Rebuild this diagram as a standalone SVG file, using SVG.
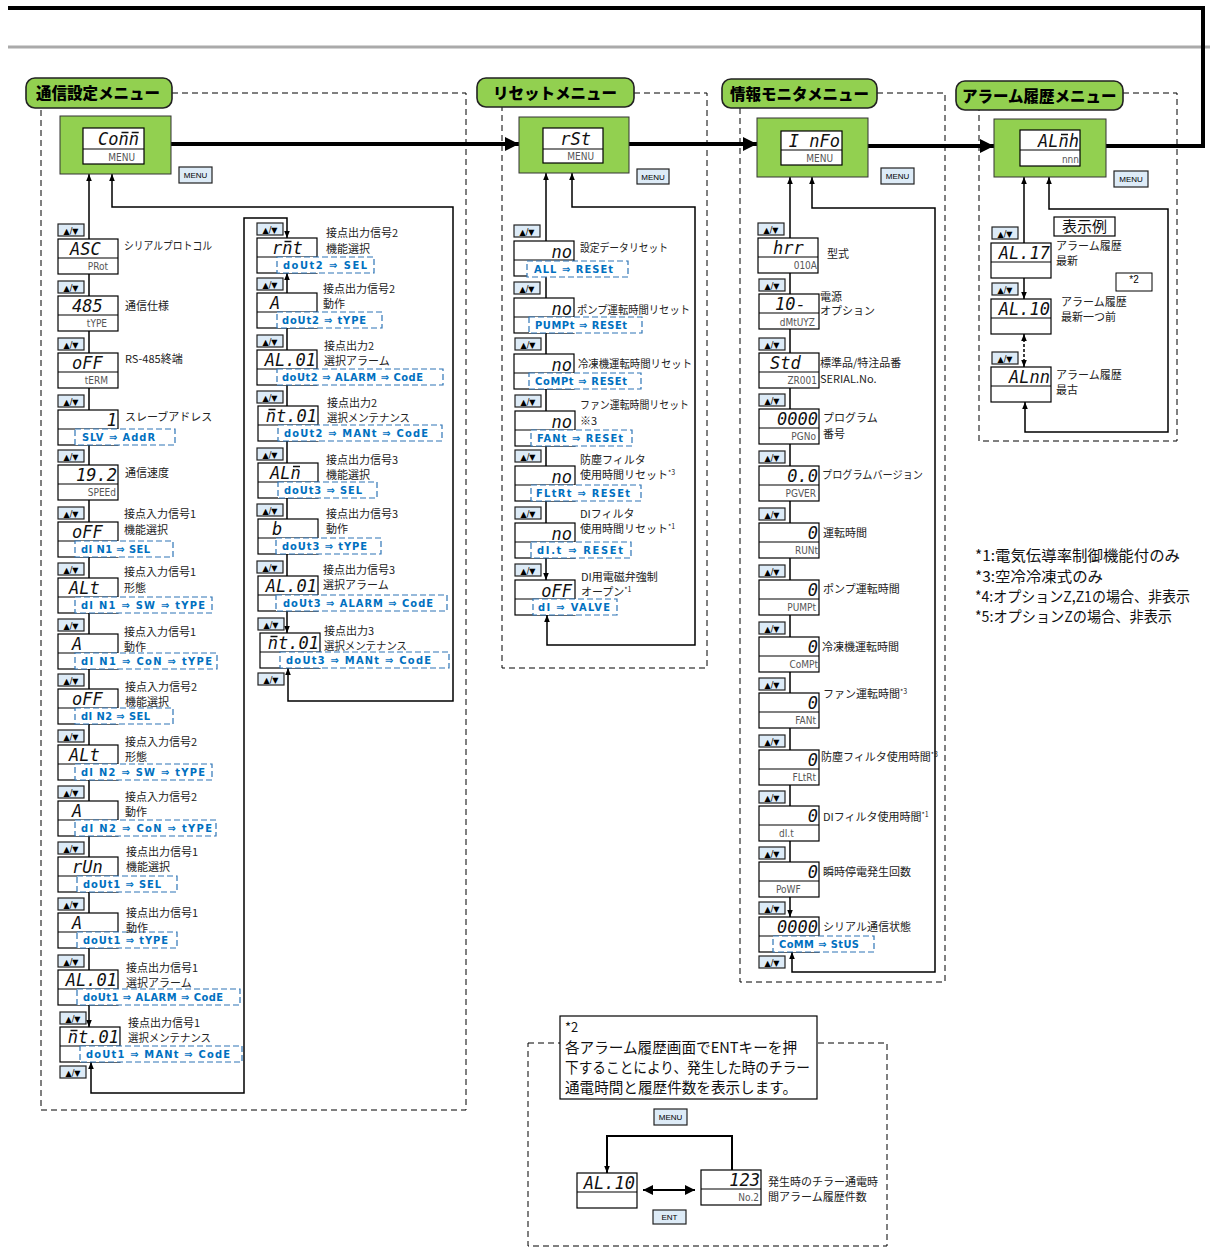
<svg xmlns="http://www.w3.org/2000/svg" width="1210" height="1259" viewBox="0 0 1210 1259">
<style>
.d{fill:#fff;stroke:#000;stroke-width:1.2}
.dl{stroke:#000;stroke-width:1.2}
.gr{fill:#92D050;stroke:#333;stroke-width:1}
.hd{fill:#92D050;stroke:#222;stroke-width:1.6}
.ht{font-family:"Noto Sans CJK JP",sans-serif;font-weight:900;font-size:15.5px;fill:#000}
.sg{font-family:"DejaVu Sans Mono",monospace;font-style:italic;font-size:17px;fill:#111}
.sge{font-family:"DejaVu Sans Mono",monospace;font-style:italic;font-size:17px;fill:#111;text-anchor:end}
.ob{stroke:#111;stroke-width:1.5}
.sb{font-family:"DejaVu Sans Condensed","DejaVu Sans",sans-serif;font-size:10px;fill:#555;text-anchor:end}
.sbs{font-family:"DejaVu Sans Condensed","DejaVu Sans",sans-serif;font-size:10px;fill:#555}
.bd{fill:#fff;stroke:#2E75B6;stroke-width:1.2;stroke-dasharray:6 3}
.bl{font-family:"DejaVu Sans Condensed","DejaVu Sans",sans-serif;font-weight:bold;font-size:11px;fill:#0070C0}
.lb{font-family:"Noto Sans CJK JP",sans-serif;font-size:11px;fill:#222}
.sup{font-size:7px}
.kb{fill:#DDEBF7;stroke:#222;stroke-width:1.2}
.kt{font-family:"DejaVu Sans",sans-serif;font-size:8px;fill:#000;text-anchor:middle}
.mt{font-family:"Liberation Sans",sans-serif;font-size:8px;fill:#000;text-anchor:middle}
.pn{fill:none;stroke:#000;stroke-width:1;stroke-dasharray:6 4}
.db{fill:none;stroke:#000;stroke-width:1.5;marker-start:url(#ah);marker-end:url(#ah)}
.one{fill:none;stroke:#000;stroke-width:2;marker-end:url(#ah)}
.thk{fill:none;stroke:#000;stroke-width:4}
.tha{fill:none;stroke:#000;stroke-width:4;marker-end:url(#AH)}
.nt{font-family:"Noto Sans CJK JP",sans-serif;font-size:15px;fill:#111}
.bt{font-family:"Noto Sans CJK JP",sans-serif;font-size:15px;fill:#111}
</style>
<defs>
<marker id="ah" viewBox="0 0 10 10" refX="10" refY="5" markerWidth="7" markerHeight="7" markerUnits="userSpaceOnUse" orient="auto-start-reverse"><path d="M0,1L10,5L0,9z" fill="#000"/></marker>
<marker id="AH" viewBox="0 0 10 10" refX="10" refY="5" markerWidth="14" markerHeight="15" markerUnits="userSpaceOnUse" orient="auto"><path d="M0,0L10,5L0,10z" fill="#000"/></marker>
<marker id="am" viewBox="0 0 10 10" refX="10" refY="5" markerWidth="11" markerHeight="10" markerUnits="userSpaceOnUse" orient="auto-start-reverse"><path d="M0,0L10,5L0,10z" fill="#000"/></marker>
<g id="bx"><rect class="d" width="60" height="35"/><line class="dl" x1="0" y1="19" x2="60" y2="19"/></g>
<g id="ud"><rect class="kb" width="26" height="12"/><text class="kt" x="13" y="9.5">▲/▼</text></g>
</defs>
<rect width="1210" height="1259" fill="#fff"/>

<g id="frame">
<line x1="8" y1="47" x2="1210" y2="47" stroke="#aaa" stroke-width="3"/>
<path class="thk" d="M8,8H1203V146H1106"/>
</g>

<g id="panels">
<path class="pn" d="M172,93H466V1110H41V108"/>
<path class="pn" d="M634,93H707V668H502V107"/>
<path class="pn" d="M877,93H945V982H740V108"/>
<path class="pn" d="M1123,93H1177V441H979V110"/>
<rect class="pn" x="528" y="1043" width="359" height="203"/>
</g>

<g id="connectors">
<path class="tha" d="M171,144H519"/>
<path class="tha" d="M629,144H757"/>
<path class="tha" d="M868,146H994"/>
<path class="db" d="M89,174V239M89,274V296M89,331V353M89,388V410M89,445V465M89,500V522M89,557V578M89,613V634M89,669V689M89,724V745M89,780V801M89,836V857M89,892V913M89,948V970M89,1005V1027"/>
<path class="db" d="M91,1062V1093H244V218H287V238"/>
<path class="db" d="M287,273V293M287,328V350M287,385V406M287,441V463M287,498V519M287,554V576M287,611V633"/>
<path class="db" d="M288,668V701H453V207H112V174"/>
<path class="db" d="M546,173V241M546,276V298M546,333V354M546,389V411M546,446V466M546,501V523M546,558V580"/>
<path class="db" d="M547,615V645H695V207H572V173"/>
<path class="db" d="M790,177V238M790,273V294M790,329V353M790,388V409M790,444V466M790,501V523M790,558V580M790,615V637M790,672V693M790,728V750M790,785V806M790,841V862M790,897V917"/>
<path class="db" d="M792,952V972H935V208H812V177"/>
<path class="db" d="M1024,177V243M1024,278V299"/>
<path class="db" stroke-dasharray="3 2" d="M1024,334V367"/>
<path class="db" d="M1025,402V432H1168V209H1049V177"/>
<path class="one" d="M732,1170V1136H607V1173"/>
<path fill="none" stroke="#000" stroke-width="2" marker-start="url(#am)" marker-end="url(#am)" d="M643,1190H695"/>
</g>

<g id="keys">
<use href="#ud" x="58" y="224"/><use href="#ud" x="58" y="281"/><use href="#ud" x="58" y="338"/><use href="#ud" x="58" y="395"/><use href="#ud" x="58" y="450"/><use href="#ud" x="58" y="507"/><use href="#ud" x="58" y="563"/><use href="#ud" x="58" y="619"/><use href="#ud" x="58" y="674"/><use href="#ud" x="58" y="730"/><use href="#ud" x="58" y="786"/><use href="#ud" x="58" y="842"/><use href="#ud" x="58" y="898"/><use href="#ud" x="58" y="955"/><use href="#ud" x="60" y="1012"/><use href="#ud" x="60" y="1066"/>
<use href="#ud" x="257" y="223"/><use href="#ud" x="257" y="278"/><use href="#ud" x="257" y="335"/><use href="#ud" x="257" y="391"/><use href="#ud" x="257" y="448"/><use href="#ud" x="257" y="504"/><use href="#ud" x="257" y="561"/><use href="#ud" x="258" y="618"/><use href="#ud" x="258" y="673"/>
<use href="#ud" x="514" y="225"/><use href="#ud" x="514" y="282"/><use href="#ud" x="515" y="338"/><use href="#ud" x="515" y="395"/><use href="#ud" x="515" y="450"/><use href="#ud" x="515" y="507"/><use href="#ud" x="515" y="564"/>
<use href="#ud" x="758" y="223"/><use href="#ud" x="759" y="279"/><use href="#ud" x="759" y="338"/><use href="#ud" x="759" y="394"/><use href="#ud" x="759" y="451"/><use href="#ud" x="759" y="508"/><use href="#ud" x="759" y="565"/><use href="#ud" x="759" y="622"/><use href="#ud" x="759" y="678"/><use href="#ud" x="759" y="735"/><use href="#ud" x="759" y="791"/><use href="#ud" x="759" y="847"/><use href="#ud" x="759" y="902"/><use href="#ud" x="759" y="956"/>
<use href="#ud" x="992" y="227"/><use href="#ud" x="992" y="283"/><use href="#ud" x="992" y="352"/>
<rect class="kb" x="179" y="167" width="33" height="16"/><text class="mt" x="195.5" y="178">MENU</text>
<rect class="kb" x="637" y="169" width="32" height="15"/><text class="mt" x="653" y="179.5">MENU</text>
<rect class="kb" x="881" y="168" width="33" height="16"/><text class="mt" x="897.5" y="179">MENU</text>
<rect class="kb" x="1114" y="171" width="34" height="16"/><text class="mt" x="1131" y="182">MENU</text>
<rect class="kb" x="654" y="1109" width="33" height="16"/><text class="mt" x="670.5" y="1120">MENU</text>
<rect class="kb" x="653" y="1210" width="33" height="14"/><text class="mt" x="669.5" y="1220">ENT</text>
</g>

<g id="m-conn">
<rect class="hd" x="26" y="78" width="146" height="30" rx="9"/><text class="ht" x="36" y="99">通信設定メニュー</text>
<rect class="gr" x="60" y="116" width="111" height="58"/>
<rect class="d" x="83" y="128" width="61" height="36"/><line class="dl" x1="83" y1="149" x2="144" y2="149"/>
<text class="sge" x="139" y="145">Conn</text><path class="ob" d="M121.5,132.5H128.5M131.7,132.5H138.7"/><text class="sb" x="135" y="161">MENU</text>
</g>
<g id="m-rst">
<rect class="hd" x="477" y="78" width="157" height="29" rx="9"/><text class="ht" x="493" y="99">リセットメニュー</text>
<rect class="gr" x="519" y="117" width="110" height="56"/>
<rect class="d" x="543" y="128" width="60" height="35"/><line class="dl" x1="543" y1="149" x2="603" y2="149"/>
<text class="sge" x="591" y="145">rSt</text><text class="sb" x="594" y="160">MENU</text>
</g>
<g id="m-info">
<rect class="hd" x="722" y="79" width="155" height="29" rx="9"/><text class="ht" x="730" y="100">情報モニタメニュー</text>
<rect class="gr" x="757" y="118" width="111" height="59"/>
<rect class="d" x="781" y="131" width="61" height="34"/><line class="dl" x1="781" y1="150" x2="842" y2="150"/>
<text class="sge" x="840" y="147">I nFo</text><text class="sb" x="833" y="162">MENU</text>
</g>
<g id="m-alarm">
<rect class="hd" x="956" y="81" width="167" height="29" rx="9"/><text class="ht" x="962" y="102">アラーム履歴メニュー</text>
<rect class="gr" x="994" y="119" width="112" height="58"/>
<rect class="d" x="1020" y="130" width="60" height="36"/><line class="dl" x1="1020" y1="150" x2="1080" y2="150"/>
<text class="sge" x="1079" y="147">ALnh</text><path class="ob" d="M1061,134.5H1068"/><text class="sb" x="1079" y="163">nnn</text>
</g>

<g id="c1-asc" transform="translate(58,239)"><use href="#bx"/><text class="sg" x="12" y="16">ASC</text><text class="sb" x="50" y="31">PRot</text><text class="lb" x="66" y="11" textLength="88" lengthAdjust="spacingAndGlyphs">シリアルプロトコル</text></g>
<g id="c1-485" transform="translate(58,296)"><use href="#bx"/><text class="sg" x="14" y="16">485</text><text class="sb" x="49" y="31">tYPE</text><text class="lb" x="67" y="14">通信仕様</text></g>
<g id="c1-term" transform="translate(58,353)"><use href="#bx"/><text class="sg" x="14" y="16">oFF</text><text class="sb" x="50" y="31">tERM</text><text class="lb" x="67" y="10">RS-485終端</text></g>
<g id="c1-slv" transform="translate(58,410)"><use href="#bx"/><text class="sge" x="59" y="16">1</text><rect class="bd" x="17" y="19" width="100" height="16"/><text class="bl" x="24" y="31" textLength="73">SLV ⇒ AddR</text><text class="lb" x="67" y="11">スレーブアドレス</text></g>
<g id="c1-spd" transform="translate(58,465)"><use href="#bx"/><text class="sge" x="59" y="16">19.2</text><text class="sb" x="58" y="31">SPEEd</text><text class="lb" x="67" y="12">通信速度</text></g>
<g id="c1-di1sel" transform="translate(58,522)"><use href="#bx"/><text class="sg" x="14" y="16">oFF</text><rect class="bd" x="17" y="19" width="98" height="16"/><text class="bl" x="23" y="31" textLength="69">dI N1 ⇒ SEL</text><text class="lb" x="66" y="-4">接点入力信号1</text><text class="lb" x="66" y="12">機能選択</text></g>
<g id="c1-di1sw" transform="translate(58,578)"><use href="#bx"/><text class="sg" x="11" y="16">ALt</text><rect class="bd" x="17" y="19" width="137" height="16"/><text class="bl" x="23" y="31" textLength="124">dI N1 ⇒ SW ⇒ tYPE</text><text class="lb" x="66" y="-2">接点入力信号1</text><text class="lb" x="66" y="14">形態</text></g>
<g id="c1-di1con" transform="translate(58,634)"><use href="#bx"/><text class="sg" x="14" y="16">A</text><rect class="bd" x="17" y="19" width="142" height="16"/><text class="bl" x="23" y="31" textLength="131">dI N1 ⇒ CoN ⇒ tYPE</text><text class="lb" x="66" y="2">接点入力信号1</text><text class="lb" x="66" y="17">動作</text></g>
<g id="c1-di2sel" transform="translate(58,689)"><use href="#bx"/><text class="sg" x="14" y="16">oFF</text><rect class="bd" x="17" y="19" width="98" height="16"/><text class="bl" x="23" y="31" textLength="69">dI N2 ⇒ SEL</text><text class="lb" x="67" y="2">接点入力信号2</text><text class="lb" x="67" y="17">機能選択</text></g>
<g id="c1-di2sw" transform="translate(58,745)"><use href="#bx"/><text class="sg" x="11" y="16">ALt</text><rect class="bd" x="17" y="19" width="137" height="16"/><text class="bl" x="23" y="31" textLength="124">dI N2 ⇒ SW ⇒ tYPE</text><text class="lb" x="67" y="1">接点入力信号2</text><text class="lb" x="67" y="16">形態</text></g>
<g id="c1-di2con" transform="translate(58,801)"><use href="#bx"/><text class="sg" x="14" y="16">A</text><rect class="bd" x="17" y="19" width="141" height="16"/><text class="bl" x="23" y="31" textLength="131">dI N2 ⇒ CoN ⇒ tYPE</text><text class="lb" x="67" y="0">接点入力信号2</text><text class="lb" x="67" y="15">動作</text></g>
<g id="c1-do1sel" transform="translate(58,857)"><use href="#bx"/><text class="sg" x="14" y="16">rUn</text><rect class="bd" x="19" y="19" width="100" height="16"/><text class="bl" x="25" y="31" textLength="78">doUt1 ⇒ SEL</text><text class="lb" x="68" y="-1">接点出力信号1</text><text class="lb" x="68" y="14">機能選択</text></g>
<g id="c1-do1typ" transform="translate(58,913)"><use href="#bx"/><text class="sg" x="14" y="16">A</text><rect class="bd" x="19" y="19" width="100" height="16"/><text class="bl" x="25" y="31" textLength="85">doUt1 ⇒ tYPE</text><text class="lb" x="68" y="4">接点出力信号1</text><text class="lb" x="68" y="19">動作</text></g>
<g id="c1-do1alm" transform="translate(58,970)"><use href="#bx"/><text class="sge" x="59" y="16">AL.01</text><rect class="bd" x="19" y="19" width="163" height="16"/><text class="bl" x="25" y="31" textLength="140">doUt1 ⇒ ALARM ⇒ CodE</text><text class="lb" x="68" y="2">接点出力信号1</text><text class="lb" x="68" y="17">選択アラーム</text></g>
<g id="c1-do1mnt" transform="translate(60,1027)"><use href="#bx"/><text class="sge" x="59" y="16">nt.01</text><path class="ob" d="M10.5,3.5H17.5"/><rect class="bd" x="20" y="19" width="162" height="16"/><text class="bl" x="26" y="31" textLength="144">doUt1 ⇒ MANt ⇒ CodE</text><text class="lb" x="68" y="0">接点出力信号1</text><text class="lb" x="68" y="15" textLength="83" lengthAdjust="spacingAndGlyphs">選択メンテナンス</text></g>

<g id="c2-do2sel" transform="translate(257,238)"><use href="#bx"/><text class="sg" x="15" y="16">rnt</text><path class="ob" d="M27.5,3.5H34.5"/><rect class="bd" x="20" y="19" width="97" height="16"/><text class="bl" x="26" y="31" textLength="84">doUt2 ⇒ SEL</text><text class="lb" x="69" y="-1">接点出力信号2</text><text class="lb" x="69" y="15">機能選択</text></g>
<g id="c2-do2typ" transform="translate(257,293)"><use href="#bx"/><text class="sg" x="13" y="16">A</text><rect class="bd" x="20" y="19" width="105" height="16"/><text class="bl" x="25" y="31" textLength="84">doUt2 ⇒ tYPE</text><text class="lb" x="66" y="0">接点出力信号2</text><text class="lb" x="66" y="15">動作</text></g>
<g id="c2-do2alm" transform="translate(257,350)"><use href="#bx"/><text class="sge" x="59" y="16">AL.01</text><rect class="bd" x="20" y="19" width="166" height="16"/><text class="bl" x="25" y="31" textLength="141">doUt2 ⇒ ALARM ⇒ CodE</text><text class="lb" x="67" y="0">接点出力2</text><text class="lb" x="67" y="15">選択アラーム</text></g>
<g id="c2-do2mnt" transform="translate(258,406)"><use href="#bx"/><text class="sge" x="59" y="16">nt.01</text><path class="ob" d="M10.5,3.5H17.5"/><rect class="bd" x="20" y="19" width="164" height="16"/><text class="bl" x="26" y="31" textLength="144">doUt2 ⇒ MANt ⇒ CodE</text><text class="lb" x="69" y="1">接点出力2</text><text class="lb" x="69" y="16" textLength="83" lengthAdjust="spacingAndGlyphs">選択メンテナンス</text></g>
<g id="c2-do3sel" transform="translate(258,463)"><use href="#bx"/><text class="sg" x="12" y="16">ALn</text><path class="ob" d="M35,3.5H42"/><rect class="bd" x="20" y="19" width="99" height="16"/><text class="bl" x="26" y="31" textLength="78">doUt3 ⇒ SEL</text><text class="lb" x="68" y="1">接点出力信号3</text><text class="lb" x="68" y="16">機能選択</text></g>
<g id="c2-do3typ" transform="translate(258,519)"><use href="#bx"/><text class="sg" x="14" y="16">b</text><rect class="bd" x="18" y="19" width="105" height="16"/><text class="bl" x="24" y="31" textLength="85">doUt3 ⇒ tYPE</text><text class="lb" x="68" y="-1">接点出力信号3</text><text class="lb" x="68" y="14">動作</text></g>
<g id="c2-do3alm" transform="translate(258,576)"><use href="#bx"/><text class="sge" x="59" y="16">AL.01</text><rect class="bd" x="18" y="19" width="171" height="16"/><text class="bl" x="25" y="31" textLength="150">doUt3 ⇒ ALARM ⇒ CodE</text><text class="lb" x="65" y="-2">接点出力信号3</text><text class="lb" x="65" y="13">選択アラーム</text></g>
<g id="c2-do3mnt" transform="translate(260,633)"><use href="#bx"/><text class="sge" x="59" y="16">nt.01</text><path class="ob" d="M10.5,3.5H17.5"/><rect class="bd" x="20" y="19" width="169" height="16"/><text class="bl" x="26" y="31" textLength="145">doUt3 ⇒ MANt ⇒ CodE</text><text class="lb" x="64" y="2">接点出力3</text><text class="lb" x="64" y="17" textLength="83" lengthAdjust="spacingAndGlyphs">選択メンテナンス</text></g>

<g id="r-all" transform="translate(514,241)"><use href="#bx"/><text class="sge" x="58" y="17">no</text><rect class="bd" x="13" y="20" width="101" height="16"/><text class="bl" x="20" y="32" textLength="79">ALL ⇒ RESEt</text><text class="lb" x="66" y="11" textLength="88" lengthAdjust="spacingAndGlyphs">設定データリセット</text></g>
<g id="r-pump" transform="translate(514,298)"><use href="#bx"/><text class="sge" x="58" y="17">no</text><rect class="bd" x="15" y="19" width="113" height="16"/><text class="bl" x="21" y="31" textLength="92">PUMPt ⇒ RESEt</text><text class="lb" x="63" y="16" textLength="113" lengthAdjust="spacingAndGlyphs">ポンプ運転時間リセット</text></g>
<g id="r-comp" transform="translate(514,354)"><use href="#bx"/><text class="sge" x="58" y="17">no</text><rect class="bd" x="15" y="19" width="112" height="16"/><text class="bl" x="21" y="31" textLength="92">CoMPt ⇒ RESEt</text><text class="lb" x="64" y="14" textLength="114" lengthAdjust="spacingAndGlyphs">冷凍機運転時間リセット</text></g>
<g id="r-fan" transform="translate(515,411)"><use href="#bx"/><text class="sge" x="57" y="17">no</text><rect class="bd" x="16" y="19" width="101" height="16"/><text class="bl" x="22" y="31" textLength="86">FANt ⇒ RESEt</text><text class="lb" x="65" y="-2" textLength="109" lengthAdjust="spacingAndGlyphs">ファン運転時間リセット</text><text class="lb" x="65" y="14">※3</text></g>
<g id="r-fltr" transform="translate(515,466)"><use href="#bx"/><text class="sge" x="57" y="17">no</text><rect class="bd" x="16" y="19" width="110" height="16"/><text class="bl" x="21" y="31" textLength="94">FLtRt ⇒ RESEt</text><text class="lb" x="65" y="-2">防塵フィルタ</text><text class="lb" x="65" y="13">使用時間リセット<tspan class="sup" dy="-4">*3</tspan></text></g>
<g id="r-dit" transform="translate(515,523)"><use href="#bx"/><text class="sge" x="57" y="17">no</text><rect class="bd" x="16" y="19" width="100" height="16"/><text class="bl" x="22" y="31" textLength="86">dI.t ⇒ RESEt</text><text class="lb" x="65" y="-5">DIフィルタ</text><text class="lb" x="65" y="10">使用時間リセット<tspan class="sup" dy="-4">*1</tspan></text></g>
<g id="r-valve" transform="translate(515,580)"><use href="#bx"/><text class="sge" x="57" y="17">oFF</text><rect class="bd" x="18" y="19" width="84" height="16"/><text class="bl" x="23" y="31" textLength="72">dI ⇒ VALVE</text><text class="lb" x="66" y="1">DI用電磁弁強制</text><text class="lb" x="66" y="16">オープン<tspan class="sup" dy="-4">*1</tspan></text></g>

<g id="i-model" transform="translate(758,238)"><use href="#bx"/><text class="sg" x="15" y="16">hrr</text><text class="sb" x="59" y="31">010A</text><text class="lb" x="69" y="20">型式</text></g>
<g id="i-opt" transform="translate(759,294)"><use href="#bx"/><text class="sg" x="16" y="16">10-</text><text class="sb" x="56" y="32">dMtUYZ</text><text class="lb" x="61" y="7">電源</text><text class="lb" x="61" y="21">オプション</text></g>
<g id="i-std" transform="translate(759,353)"><use href="#bx"/><text class="sg" x="11" y="16">Std</text><text class="sb" x="58" y="31">ZR001</text><text class="lb" x="61" y="14">標準品/特注品番</text><text class="lb" x="61" y="30">SERIAL.No.</text></g>
<g id="i-pgno" transform="translate(759,409)"><use href="#bx"/><text class="sge" x="59" y="16">0000</text><text class="sb" x="57" y="31">PGNo</text><text class="lb" x="64" y="13">プログラム</text><text class="lb" x="64" y="29">番号</text></g>
<g id="i-pgver" transform="translate(759,466)"><use href="#bx"/><text class="sge" x="59" y="16">0.0</text><text class="sb" x="57" y="31">PGVER</text><text class="lb" x="63" y="13" textLength="101" lengthAdjust="spacingAndGlyphs">プログラムバージョン</text></g>
<g id="i-run" transform="translate(759,523)"><use href="#bx"/><text class="sge" x="59" y="16">0</text><text class="sb" x="59" y="31">RUNt</text><text class="lb" x="64" y="14">運転時間</text></g>
<g id="i-pump" transform="translate(759,580)"><use href="#bx"/><text class="sge" x="59" y="16">0</text><text class="sb" x="57" y="31">PUMPt</text><text class="lb" x="64" y="13">ポンプ運転時間</text></g>
<g id="i-comp" transform="translate(759,637)"><use href="#bx"/><text class="sge" x="59" y="16">0</text><text class="sb" x="59" y="31">CoMPt</text><text class="lb" x="63" y="14">冷凍機運転時間</text></g>
<g id="i-fan" transform="translate(759,693)"><use href="#bx"/><text class="sge" x="59" y="16">0</text><text class="sb" x="57" y="31">FANt</text><text class="lb" x="64" y="5">ファン運転時間<tspan class="sup" dy="-4">*3</tspan></text></g>
<g id="i-fltr" transform="translate(759,750)"><use href="#bx"/><text class="sge" x="59" y="16">0</text><text class="sb" x="57" y="31">FLtRt</text><text class="lb" x="62" y="11">防塵フィルタ使用時間<tspan class="sup" dy="-4">*3</tspan></text></g>
<g id="i-dit" transform="translate(759,806)"><use href="#bx"/><text class="sge" x="59" y="16">0</text><text class="sbs" x="20" y="31">dI.t</text><text class="lb" x="64" y="15">DIフィルタ使用時間<tspan class="sup" dy="-4">*1</tspan></text></g>
<g id="i-powf" transform="translate(759,862)"><use href="#bx"/><text class="sge" x="59" y="16">0</text><text class="sbs" x="17" y="31">PoWF</text><text class="lb" x="64" y="14">瞬時停電発生回数</text></g>
<g id="i-comm" transform="translate(759,917)"><use href="#bx"/><text class="sge" x="59" y="16">0000</text><rect class="bd" x="14" y="19" width="101" height="16"/><text class="bl" x="20" y="31" textLength="80">CoMM ⇒ StUS</text><text class="lb" x="64" y="14">シリアル通信状態</text></g>

<g id="a-sample"><rect x="1054" y="217" width="61" height="19" fill="#fff" stroke="#000" stroke-width="1.2"/><text class="bt" x="1084.5" y="232" text-anchor="middle" font-size="16">表示例</text></g>
<g id="a-note2"><rect x="1116" y="273" width="36" height="18" fill="#fff" stroke="#000" stroke-width="1"/><text x="1134" y="283" font-family="Liberation Sans,sans-serif" font-size="10" text-anchor="middle">*2</text></g>
<g id="a-17" transform="translate(991,243)"><use href="#bx"/><text class="sge" x="59" y="16">AL.17</text><text class="lb" x="65" y="7">アラーム履歴</text><text class="lb" x="65" y="22">最新</text></g>
<g id="a-10" transform="translate(991,299)"><use href="#bx"/><text class="sge" x="59" y="16">AL.10</text><text class="lb" x="70" y="7">アラーム履歴</text><text class="lb" x="70" y="22">最新一つ前</text></g>
<g id="a-nn" transform="translate(991,367)"><use href="#bx"/><text class="sge" x="59" y="16">ALnn</text><text class="lb" x="65" y="12">アラーム履歴</text><text class="lb" x="65" y="27">最古</text></g>

<g id="notes">
<text class="nt" x="975" y="561" textLength="205" lengthAdjust="spacingAndGlyphs">*1:電気伝導率制御機能付のみ</text>
<text class="nt" x="975" y="582" textLength="128" lengthAdjust="spacingAndGlyphs">*3:空冷冷凍式のみ</text>
<text class="nt" x="975" y="602" textLength="215" lengthAdjust="spacingAndGlyphs">*4:オプションZ,Z1の場合、非表示</text>
<text class="nt" x="975" y="622" textLength="197" lengthAdjust="spacingAndGlyphs">*5:オプションZの場合、非表示</text>
</g>

<g id="b-text">
<rect x="560" y="1016" width="257" height="83" fill="#fff" stroke="#000" stroke-width="1.2"/>
<text x="565" y="1032" font-family="Noto Sans CJK JP,sans-serif" font-size="13" fill="#111">*2</text>
<text class="bt" x="565" y="1053" textLength="232" lengthAdjust="spacingAndGlyphs">各アラーム履歴画面でENTキーを押</text>
<text class="bt" x="565" y="1073" textLength="245" lengthAdjust="spacingAndGlyphs">下することにより、発生した時のチラー</text>
<text class="bt" x="565" y="1093" textLength="232" lengthAdjust="spacingAndGlyphs">通電時間と履歴件数を表示します。</text>
</g>
<g id="b-al10" transform="translate(577,1173)"><use href="#bx"/><text class="sge" x="58" y="16">AL.10</text></g>
<g id="b-123" transform="translate(701,1170)"><use href="#bx"/><text class="sge" x="59" y="16">123</text><text class="sb" x="58" y="31">No.2</text><text class="lb" x="67" y="16">発生時のチラー通電時</text><text class="lb" x="67" y="31">間アラーム履歴件数</text></g>
</svg>
